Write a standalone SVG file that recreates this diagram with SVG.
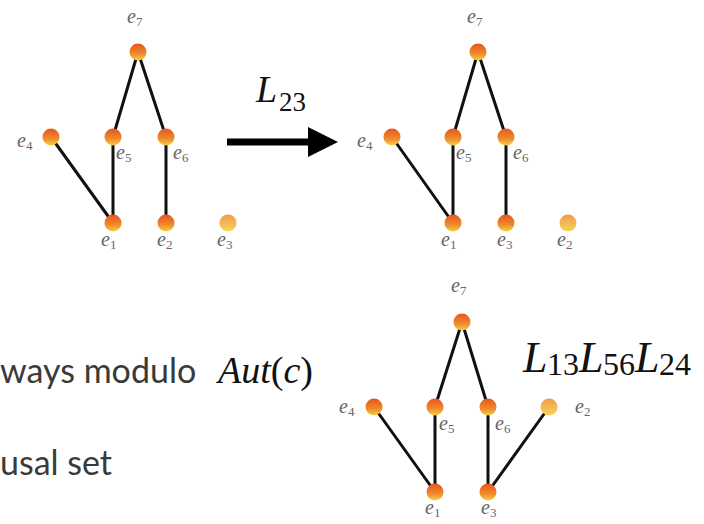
<svg xmlns="http://www.w3.org/2000/svg" width="704" height="524" viewBox="0 0 704 524">
<defs>
<linearGradient id="g" x1="0" y1="0" x2="0" y2="1">
<stop offset="0" stop-color="#e6561e"/>
<stop offset="0.6" stop-color="#ef8a2c"/>
<stop offset="1" stop-color="#f7cf45"/>
</linearGradient>
<linearGradient id="gl" x1="0" y1="0" x2="0" y2="1">
<stop offset="0" stop-color="#f09a4a"/>
<stop offset="1" stop-color="#f8d55a"/>
</linearGradient>
<style>
.e{stroke:#111;stroke-width:3;fill:none;stroke-linecap:round}
.n{fill:url(#g)}
.nl{fill:url(#gl)}
.lb{font-family:"Liberation Serif",serif;font-style:italic;font-size:20px;fill:#666}
.lb tspan{font-style:normal;font-size:13px}
.mi{font-family:"Liberation Serif",serif;font-style:italic;fill:#111}
.mn{font-family:"Liberation Serif",serif;fill:#111}
.up{font-style:normal}
.s{font-family:Lato,"Open Sans",sans-serif;font-size:34px;fill:#3a3a3a}
</style>
</defs>
<rect width="704" height="524" fill="#fff"/>
<g id="connectors">
<line class="e" x1="138" y1="52" x2="113" y2="137"/>
<line class="e" x1="138" y1="52" x2="166" y2="137"/>
<line class="e" x1="51" y1="137" x2="113" y2="223"/>
<line class="e" x1="113" y1="137" x2="113" y2="223"/>
<line class="e" x1="166" y1="137" x2="166" y2="223"/>
<line class="e" x1="478" y1="52" x2="453" y2="137"/>
<line class="e" x1="478" y1="52" x2="506" y2="137"/>
<line class="e" x1="392" y1="137" x2="453" y2="223"/>
<line class="e" x1="453" y1="137" x2="453" y2="223"/>
<line class="e" x1="506" y1="137" x2="506" y2="223"/>
<line class="e" x1="462" y1="322" x2="435" y2="407"/>
<line class="e" x1="462" y1="322" x2="488" y2="407"/>
<line class="e" x1="374" y1="407" x2="435" y2="492"/>
<line class="e" x1="435" y1="407" x2="435" y2="492"/>
<line class="e" x1="488" y1="407" x2="488" y2="492"/>
<line class="e" x1="549" y1="407" x2="488" y2="492"/>
<g id="arrow">
<line x1="227" y1="142" x2="312" y2="142" stroke="#000" stroke-width="7"/>
<polygon points="308,127 338,142 308,157" fill="#000"/>
</g>
</g>
<g id="graph1">
<g id="g1-e7"><circle class="n" cx="138" cy="52" r="8.5"/><text class="lb" x="127" y="23">e<tspan dy="3">7</tspan></text></g>
<g id="g1-e4"><circle class="n" cx="51" cy="137" r="8.5"/><text class="lb" x="17" y="147">e<tspan dy="3">4</tspan></text></g>
<g id="g1-e5"><circle class="n" cx="113" cy="137" r="8.5"/><text class="lb" x="116" y="159">e<tspan dy="3">5</tspan></text></g>
<g id="g1-e6"><circle class="n" cx="166" cy="137" r="8.5"/><text class="lb" x="173" y="159">e<tspan dy="3">6</tspan></text></g>
<g id="g1-e1"><circle class="n" cx="113" cy="223" r="8.5"/><text class="lb" x="101" y="246">e<tspan dy="3">1</tspan></text></g>
<g id="g1-e2"><circle class="n" cx="166" cy="223" r="8.5"/><text class="lb" x="157" y="246">e<tspan dy="3">2</tspan></text></g>
<g id="g1-e3"><circle class="nl" cx="228" cy="223" r="8.5"/><text class="lb" x="217" y="246">e<tspan dy="3">3</tspan></text></g>
</g>
<g id="label-L23">
<text class="mi" x="256" y="102" font-size="38">L</text>
<text class="mn" x="279" y="111" font-size="27">23</text>
</g>
<g id="graph2">
<g id="g2-e7"><circle class="n" cx="478" cy="52" r="8.5"/><text class="lb" x="467" y="23">e<tspan dy="3">7</tspan></text></g>
<g id="g2-e4"><circle class="n" cx="392" cy="137" r="8.5"/><text class="lb" x="357" y="147">e<tspan dy="3">4</tspan></text></g>
<g id="g2-e5"><circle class="n" cx="453" cy="137" r="8.5"/><text class="lb" x="456" y="159">e<tspan dy="3">5</tspan></text></g>
<g id="g2-e6"><circle class="n" cx="506" cy="137" r="8.5"/><text class="lb" x="513" y="159">e<tspan dy="3">6</tspan></text></g>
<g id="g2-e1"><circle class="n" cx="453" cy="223" r="8.5"/><text class="lb" x="441" y="246">e<tspan dy="3">1</tspan></text></g>
<g id="g2-e3"><circle class="n" cx="506" cy="223" r="8.5"/><text class="lb" x="497" y="246">e<tspan dy="3">3</tspan></text></g>
<g id="g2-e2"><circle class="nl" cx="568" cy="223" r="8.5"/><text class="lb" x="557" y="246">e<tspan dy="3">2</tspan></text></g>
</g>
<g id="graph3">
<g id="g3-e7"><circle class="n" cx="462" cy="322" r="8.5"/><text class="lb" x="451" y="292">e<tspan dy="3">7</tspan></text></g>
<g id="g3-e4"><circle class="n" cx="374" cy="407" r="8.5"/><text class="lb" x="339" y="413">e<tspan dy="3">4</tspan></text></g>
<g id="g3-e5"><circle class="n" cx="435" cy="407" r="8.5"/><text class="lb" x="439" y="430">e<tspan dy="3">5</tspan></text></g>
<g id="g3-e6"><circle class="n" cx="488" cy="407" r="8.5"/><text class="lb" x="495" y="430">e<tspan dy="3">6</tspan></text></g>
<g id="g3-e2"><circle class="nl" cx="549" cy="407" r="8.5"/><text class="lb" x="575" y="413">e<tspan dy="3">2</tspan></text></g>
<g id="g3-e1"><circle class="n" cx="435" cy="492" r="8.5"/><text class="lb" x="425" y="514">e<tspan dy="3">1</tspan></text></g>
<g id="g3-e3"><circle class="n" cx="488" cy="492" r="8.5"/><text class="lb" x="481" y="514">e<tspan dy="3">3</tspan></text></g>
</g>
<g id="label-L13L56L24">
<text class="mi" x="523" y="372" font-size="44">L</text>
<text class="mn" x="547" y="375" font-size="32">13</text>
<text class="mi" x="579" y="372" font-size="44">L</text>
<text class="mn" x="603" y="375" font-size="32">56</text>
<text class="mi" x="635" y="372" font-size="44">L</text>
<text class="mn" x="659" y="375" font-size="32">24</text>
</g>
<g id="text-left">
<text class="s" x="0" y="383">ways modulo</text>
<text class="mi" x="218" y="383" font-size="38">Aut<tspan class="up">(</tspan>c<tspan class="up">)</tspan></text>
<text class="s" x="0" y="475">usal set</text>
</g>
</svg>
